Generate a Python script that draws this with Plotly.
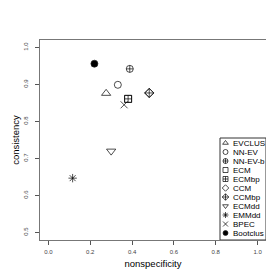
import plotly.graph_objects as go

# Data
methods = ["EVCLUS", "NN-EV", "NN-EV-b", "ECM", "ECMbp", "CCM", "CCMbp",
           "ECMdd", "EMMdd", "BPEC", "Bootclus"]
nonspecificity = [0.276, 0.332, 0.389, 0.381, 0.381, 0.482, 0.482,
                  0.300, 0.116, 0.362, 0.220]
consistency = [0.876, 0.899, 0.942, 0.861, 0.861, 0.877, 0.877,
               0.720, 0.647, 0.845, 0.956]
symbols = ["triangle-up-open", "circle-open", "circle-cross-open", "square-open",
           "square-cross-open", "diamond-open", "diamond-cross-open",
           "triangle-down-open", "asterisk-open", "x-thin-open", "circle"]
x_ticks = [0.0, 0.2, 0.4, 0.6, 0.8, 1.0]
y_ticks = [0.5, 0.6, 0.7, 0.8, 0.9, 1.0]

W, H = 274, 274
L, R, T, B = 32, 16, 32, 42
FONT = "Liberation Sans, Arial, sans-serif"

fig = go.Figure()
for name, x, y, s in zip(methods, nonspecificity, consistency, symbols):
    fig.add_trace(go.Scatter(
        x=[x], y=[y], mode="markers", name=name, showlegend=False,
        marker=dict(symbol=s, size=8 if "triangle" in s else 7, color="black",
                    line=dict(color="#222", width=0.7)),
    ))

# Hand-drawn legend in an overlay axis (0..1 across the plot area)
n = len(methods)
top_px, step_px = 135.0, 9.0
plot_h = H - T - B
plot_w = W - L - R
leg_y = [(H - B - (top_px + i * step_px)) / plot_h for i in range(n)]
sym_x = (217.5 - L) / plot_w
fig.add_trace(go.Scatter(
    x=[sym_x] * n, y=leg_y, xaxis="x2", yaxis="y2", mode="markers",
    marker=dict(symbol=symbols, size=5, color="black", line=dict(color="#222", width=0.7)),
    showlegend=False, cliponaxis=False,
))
txt_x = (222.5 - L) / plot_w
for m, yy in zip(methods, leg_y):
    fig.add_annotation(x=txt_x, y=yy, xref="x2", yref="y2", text=m, showarrow=False,
                       xanchor="left", yanchor="middle",
                       font=dict(family=FONT, size=8, color="black"))
fig.add_shape(type="rect", xref="paper", yref="paper",
              x0=(212 - L) / plot_w, x1=1.0, y0=0.0, y1=(H - B - 130) / plot_h,
              line=dict(color="#333", width=1), fillcolor="white", layer="below")

axis_common = dict(showgrid=False, zeroline=False, showline=True, mirror=True,
                   automargin=False,
                   linecolor="#777", linewidth=1, ticks="outside", ticklen=4,
                   tickcolor="#555", tickwidth=1,
                   tickfont=dict(family=FONT, size=6, color="#444"))

fig.update_layout(
    width=W, height=H, margin=dict(l=L, r=R, t=T, b=B),
    paper_bgcolor="white", plot_bgcolor="rgba(0,0,0,0)",
    xaxis=dict(range=[-0.04, 1.04], tickvals=x_ticks, ticklabelstandoff=2,
               ticktext=[f"{v:.1f}" for v in x_ticks],
               title=dict(text="nonspecificity", standoff=6,
                          font=dict(family=FONT, size=9.5, color="black")),
               **axis_common),
    yaxis=dict(range=[0.48, 1.02], tickvals=y_ticks, tickangle=-90, ticklabelstandoff=5,
               ticktext=[f"{v:.1f}" for v in y_ticks],
               title=dict(text="consistency", standoff=1,
                          font=dict(family=FONT, size=9.5, color="black")),
               **axis_common),
    xaxis2=dict(overlaying="x", range=[0, 1], visible=False, fixedrange=True),
    yaxis2=dict(overlaying="y", range=[0, 1], visible=False, fixedrange=True),
    showlegend=False,
)

fig.write_html("out.html")
